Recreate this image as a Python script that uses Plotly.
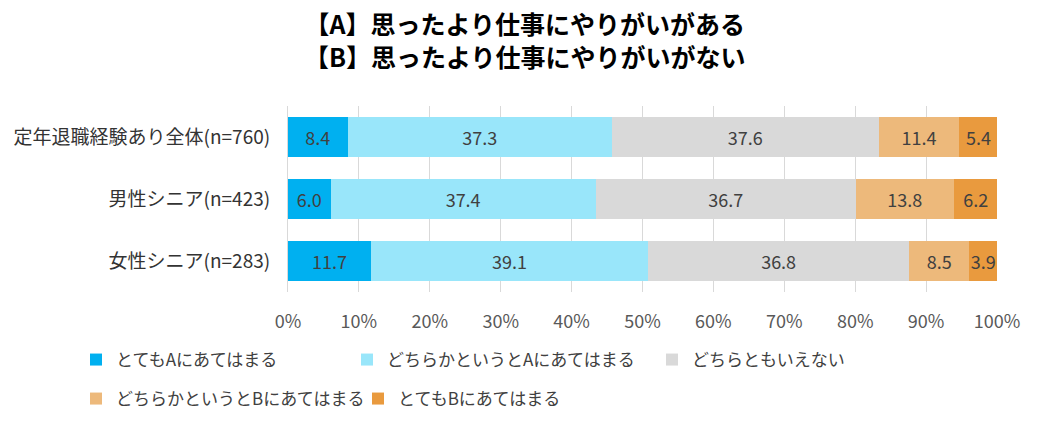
import plotly.graph_objects as go

categories = ["定年退職経験あり全体(n=760)", "男性シニア(n=423)", "女性シニア(n=283)"]
series_names = [
    "とてもAにあてはまる",
    "どちらかというとAにあてはまる",
    "どちらともいえない",
    "どちらかというとBにあてはまる",
    "とてもBにあてはまる",
]
very_a = [8.4, 6.0, 11.7]
rather_a = [37.3, 37.4, 39.1]
neither = [37.6, 36.7, 36.8]
rather_b = [11.4, 13.8, 8.5]
very_b = [5.4, 6.2, 3.9]
tick_vals = [0, 10, 20, 30, 40, 50, 60, 70, 80, 90, 100]
tick_text = [f"{v}%" for v in tick_vals]
title_lines = ["【A】思ったより仕事にやりがいがある", "【B】思ったより仕事にやりがいがない"]

colors = ["#00B0F0", "#99E6FA", "#D9D9D9", "#EDB97B", "#E99A3E"]
series = [very_a, rather_a, neither, rather_b, very_b]

font = "Noto Sans CJK JP"

# page body has an 8px margin, so the figure sits at (8, 8) on screen
OFF = 8
FW, FH = 1047 - OFF, 433 - OFF
L, T, W, H = 288 - OFF, 106 - OFF, 709, 186

# screen pixel -> paper coords
def px(x):
    return (x - OFF - L) / W
def py(y):
    return 1 + (T + OFF - y) / H

# one legend per entry to mimic the original layout
legend_pos = [(px(76), py(342)), (px(347), py(342)), (px(652), py(342)),
              (px(76), py(381)), (px(358), py(381))]

fig = go.Figure()
for i, (name, vals, col) in enumerate(zip(series_names, series, colors)):
    lg = "legend" if i == 0 else f"legend{i + 1}"
    fig.add_trace(go.Bar(
        y=categories, x=vals, name=name, orientation="h",
        marker=dict(color=col, line=dict(width=0)),
        texttemplate="%{x:.1f}", textposition="inside", insidetextanchor="middle",
        textangle=0, constraintext="none",
        textfont=dict(family=font, size=18, color="#404040"),
        legend=lg,
    ))

fig.update_layout(
    barmode="stack",
    bargap=0.355,
    width=FW, height=FH,
    margin=dict(l=L, r=FW - L - W, t=T, b=FH - T - H, autoexpand=False),
    paper_bgcolor="white", plot_bgcolor="white",
    xaxis=dict(
        range=[0, 100], tickvals=tick_vals, ticktext=tick_text,
        showgrid=True, gridcolor="#D9D9D9", gridwidth=1,
        zeroline=False, showline=False, ticklabelstandoff=17,
        tickfont=dict(family=font, size=18, color="#595959"),
        automargin=False,
    ),
    yaxis=dict(
        autorange="reversed", showgrid=False, showline=True, linecolor="#D9D9D9",
        ticks="", ticklabelstandoff=13, automargin=False,
        tickfont=dict(family=font, size=19, color="#333333"),
    ),
    showlegend=True,
)

fig.add_annotation(
    text="<b>" + "<br>".join(title_lines) + "</b>", xref="paper", yref="paper",
    x=px(525), y=py(40), xanchor="center", yanchor="middle", showarrow=False,
    font=dict(family=font, size=25, color="#000000"),
)

for i, (lx, ly) in enumerate(legend_pos):
    key = "legend" if i == 0 else f"legend{i + 1}"
    fig.update_layout({key: dict(
        x=lx, y=ly, xanchor="left", yanchor="top", orientation="h",
        font=dict(family=font, size=17, color="#404040"),
        bgcolor="rgba(0,0,0,0)", itemwidth=30,
    )})

fig.write_html("out.html")
